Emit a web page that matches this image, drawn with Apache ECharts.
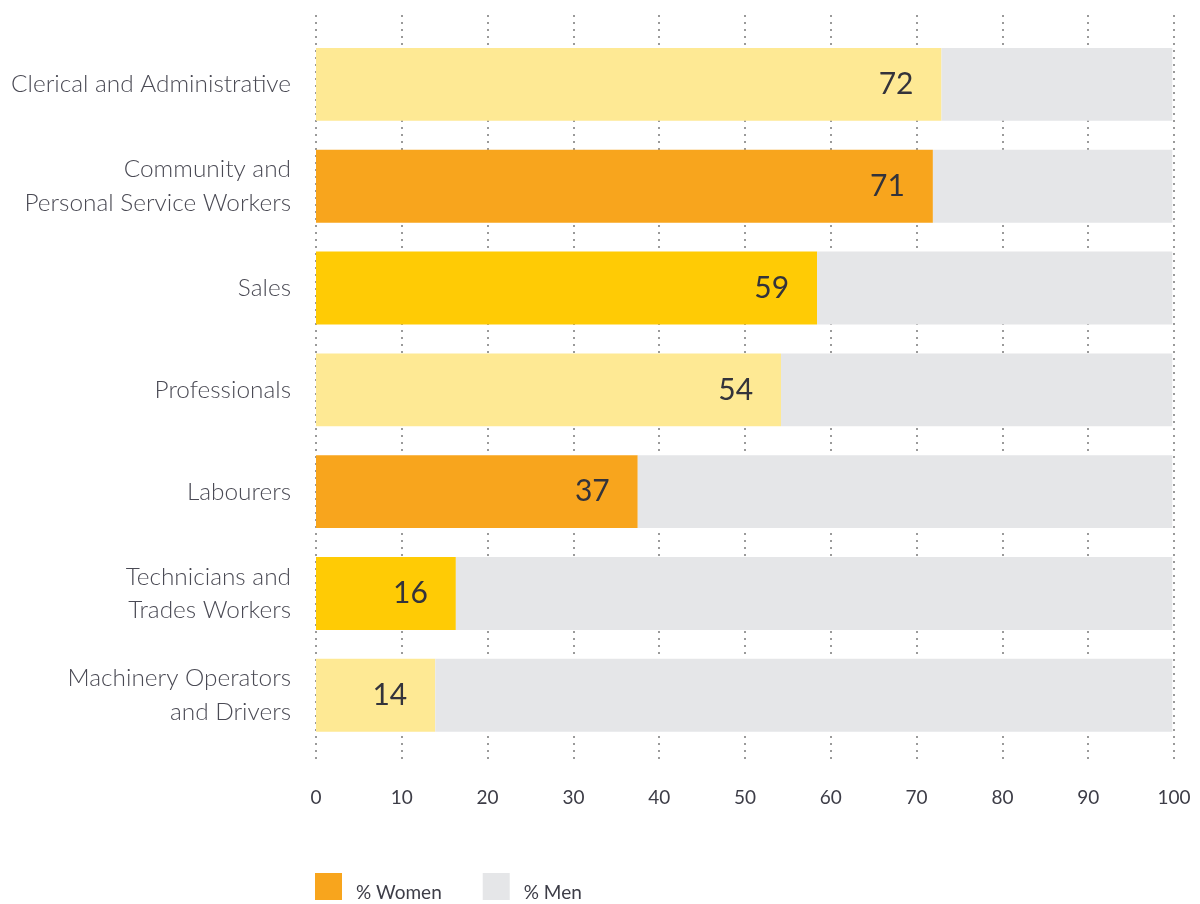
<!DOCTYPE html>
<html>
<head>
<meta charset="utf-8">
<script src="https://cdn.jsdelivr.net/npm/echarts@6/dist/echarts.min.js"></script>
<style>
html,body{margin:0;padding:0;background:#fff;}
#chart{width:1200px;height:904px;}
</style>
</head>
<body>
<div id="chart"></div>
<script>
const categories = [
  "Clerical and Administrative",
  "Community and\nPersonal Service Workers",
  "Sales",
  "Professionals",
  "Labourers",
  "Technicians and\nTrades Workers",
  "Machinery Operators\nand Drivers"
];
const womenValues = [72.9, 71.9, 58.4, 54.2, 37.5, 16.3, 13.9];
const menValues = [26.9, 27.9, 41.4, 45.6, 62.3, 83.5, 85.9];
const womenLabels = ["72", "71", "59", "54", "37", "16", "14"];
const barColors = ["#FEE994", "#F8A51D", "#FFCB05", "#FEE994", "#F8A51D", "#FFCB05", "#FEE994"];
const xTicks = [0, 10, 20, 30, 40, 50, 60, 70, 80, 90, 100];

const FONT = "Lato, 'Open Sans', sans-serif";
const chart = echarts.init(document.getElementById('chart'), null, {renderer: 'canvas'});

const option = {
  backgroundColor: '#ffffff',
  animation: false,
  textStyle: {fontFamily: FONT},
  legend: {
    left: 310,
    top: 868,
    itemWidth: 27,
    itemHeight: 39,
    itemGap: 41,
    icon: 'path://M0,0L27,0L27,27L0,27Z M0,39L0.001,39',
    selectedMode: false,
    data: ['% Women', '% Men'],
    textStyle: {fontFamily: FONT, fontSize: 19, color: '#3d3d47', padding: [0, 0, 0, 9]}
  },
  grid: [
    {left: 316, right: 26, top: 33.5, bottom: 157.8, containLabel: false},
    {left: 316, right: 26, top: 15, bottom: 144, containLabel: false}
  ],
  xAxis: [
    {
      type: 'value', gridIndex: 0, min: 0, max: 100, interval: 10,
      axisLine: {show: false}, axisTick: {show: false}, splitLine: {show: false},
      axisLabel: {
        margin: 42, fontSize: 19, color: '#3d3d47', fontFamily: FONT,
        formatter: function (v) { return xTicks.indexOf(v) >= 0 ? String(v) : ''; }
      }
    },
    {
      type: 'value', gridIndex: 1, min: 0, max: 100, interval: 10,
      axisLine: {show: false}, axisTick: {show: false}, axisLabel: {show: false},
      splitLine: {show: true, lineStyle: {color: '#9a9a9a', width: 2, type: [2, 5]}}
    }
  ],
  yAxis: [
    {
      type: 'category', gridIndex: 0, data: categories, inverse: true,
      axisLine: {show: false}, axisTick: {show: false}, splitLine: {show: false},
      axisLabel: {
        margin: 25, fontSize: 24.4, fontWeight: 300, lineHeight: 33.5, color: '#4a4a54', fontFamily: FONT, align: 'right'
      }
    },
    {
      type: 'value', gridIndex: 1, min: 0, max: 1, show: false,
      splitLine: {show: false}
    }
  ],
  series: [
    {
      name: '% Women', type: 'bar', stack: 'total',
      xAxisIndex: 0, yAxisIndex: 0,
      barCategoryGap: '28.4%',
      itemStyle: {color: '#F8A51D'},
      data: womenValues.map((v, i) => ({value: v, itemStyle: {color: barColors[i]}})),
      label: {
        show: true, position: 'insideRight', distance: 28,
        fontSize: 30, color: '#33333b', fontFamily: FONT,
        formatter: function (p) { return womenLabels[p.dataIndex]; }
      },
      z: 3
    },
    {
      name: '% Men', type: 'bar', stack: 'total',
      xAxisIndex: 0, yAxisIndex: 0,
      barCategoryGap: '28.4%',
      itemStyle: {color: '#E5E6E8'},
      data: menValues,
      z: 3
    }
  ]
};
chart.setOption(option);
</script>
</body>
</html>
